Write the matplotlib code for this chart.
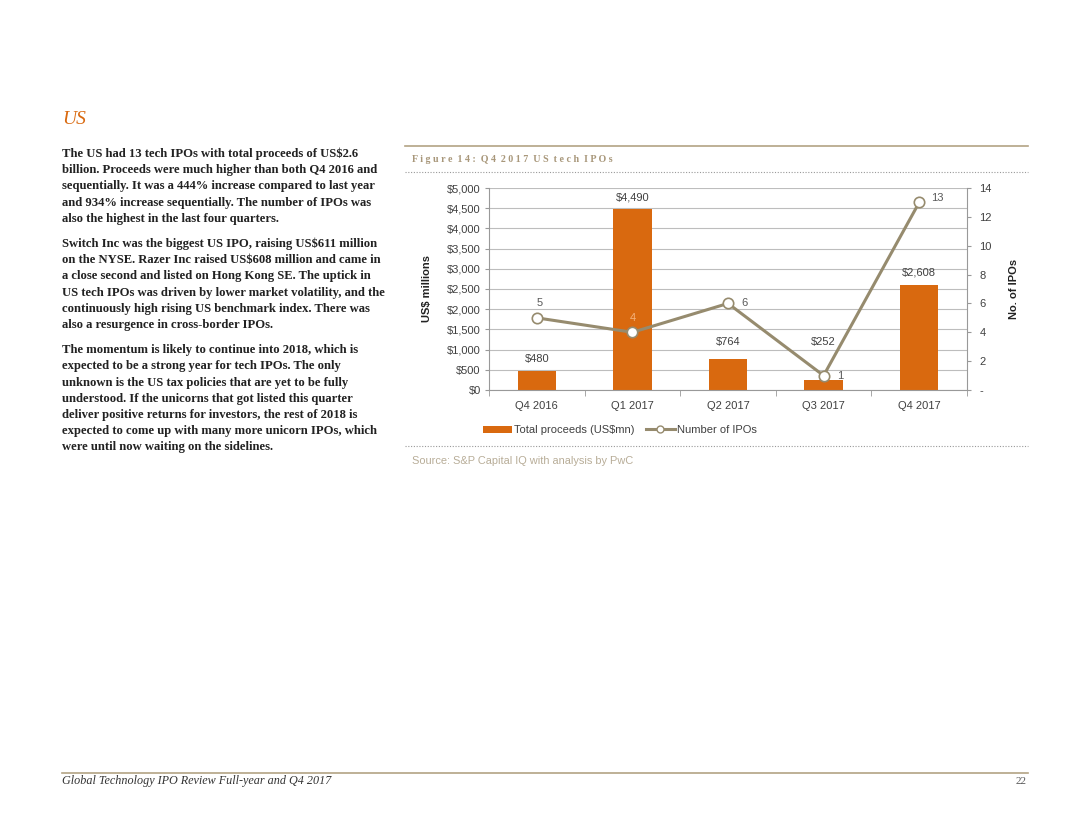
import numpy as np
import matplotlib.pyplot as plt
from matplotlib.patches import Patch
from matplotlib.lines import Line2D

W, H = 1080, 835

quarters = ["Q4 2016", "Q1 2017", "Q2 2017", "Q3 2017", "Q4 2017"]
proceeds = [480, 4490, 764, 252, 2608]
ipo_count = [5, 4, 6, 1, 13]

para1 = ["The US had 13 tech IPOs with total proceeds of US$2.6",
         "billion. Proceeds were much higher than both Q4 2016 and",
         "sequentially. It was a 444% increase compared to last year",
         "and 934% increase sequentially. The number of IPOs was",
         "also the highest in the last four quarters."]
para2 = ["Switch Inc was the biggest US IPO, raising US$611 million",
         "on the NYSE. Razer Inc raised US$608 million and came in",
         "a close second and listed on Hong Kong SE. The uptick in",
         "US tech IPOs was driven by lower market volatility, and the",
         "continuously high rising US benchmark index. There was",
         "also a resurgence in cross-border IPOs."]
para3 = ["The momentum is likely to continue into 2018, which is",
         "expected to be a strong year for tech IPOs. The only",
         "unknown is the US tax policies that are yet to be fully",
         "understood. If the unicorns that got listed this quarter",
         "deliver positive returns for investors, the rest of 2018 is",
         "expected to come up with many more unicorn IPOs, which",
         "were until now waiting on the sidelines."]

ORANGE = "#D9690F"
LINE = "#968B6E"
TAN = "#B3A384"
TXT = "#404040"
FS = 8


def fx(x):
    return x / W


def fy(y):
    return 1 - y / H


fig = plt.figure(figsize=(W / 100, H / 100), dpi=100)
fig.patch.set_facecolor("white")

# left column text
fig.text(fx(62), fy(119), "US", family="Liberation Serif", style="italic",
         size=14, color=ORANGE, va="center")
y = 154
for para in (para1, para2, para3):
    for line in para:
        fig.text(fx(62), fy(y), line, family="Liberation Serif", weight="bold",
                 size=9.1, color="#222222", va="center")
        y += 16.2
    y += 9

# figure frame lines
fig.add_artist(Line2D([fx(405), fx(1028)], [fy(146), fy(146)], color=TAN, lw=1.2))
fig.add_artist(Line2D([fx(405), fx(1028)], [fy(172), fy(172)], color="#999999",
                      lw=0.8, ls=(0, (1, 1.5))))
fig.add_artist(Line2D([fx(405), fx(1028)], [fy(446), fy(446)], color="#999999",
                      lw=0.8, ls=(0, (1, 1.5))))
fig.text(fx(412), fy(160), "F i g u r e  1 4 :  Q 4  2 0 1 7  U S  t e c h  I P O s",
         family="Liberation Serif", weight="bold", size=7.2, color="#A8977A", va="center")
fig.text(fx(412), fy(461), "Source: S&P Capital IQ with analysis by PwC",
         family="Liberation Sans", size=7.9, color="#B8AD98", va="center")

# footer
fig.add_artist(Line2D([fx(62), fx(1028)], [fy(773), fy(773)], color=TAN, lw=1.2))
fig.text(fx(62), fy(781), "Global Technology IPO Review Full-year and Q4 2017",
         family="Liberation Serif", style="italic", size=8.7, color="#333333", va="center")
fig.text(fx(1027), fy(781), "22", family="Liberation Serif", size=8,
         color="#555555", va="center", ha="right")

# chart
ax = fig.add_axes([fx(489), fy(390), (967 - 489) / W, (390 - 188) / H])
x = np.arange(len(quarters))
ax.bar(x, proceeds, width=0.4, color=ORANGE, zorder=2)
ax.set_xlim(-0.5, len(quarters) - 0.5)
ax.set_ylim(0, 5000)
ax.set_yticks(np.arange(0, 5001, 500))
ax.set_yticklabels(["${:,}".format(v) for v in range(0, 5001, 500)])
ax.yaxis.grid(True, color="#BDBDBD", lw=0.8, zorder=0)
ax.set_axisbelow(True)
ax.set_xticks(x)
ax.set_xticklabels(quarters)
ax.set_xticks(np.arange(-0.5, len(quarters)), minor=True)
ax.tick_params(axis="x", which="major", length=0, pad=8)
ax.tick_params(axis="x", which="minor", length=4, color="#999999")
ax.tick_params(axis="y", length=3, color="#999999", pad=3)
ax.tick_params(labelsize=FS, labelcolor=TXT)
for lab in ax.get_xticklabels() + ax.get_yticklabels():
    lab.set_family("Liberation Sans")
for s in ["top", "right"]:
    ax.spines[s].set_visible(False)
for s in ["left", "bottom"]:
    ax.spines[s].set_color("#999999")
    ax.spines[s].set_linewidth(0.8)
ax.set_ylabel("US$ millions", family="Liberation Sans", weight="bold", size=FS,
              color="#222222", labelpad=11)

bar_offsets = [8, 8, 12, 27, 9]
for xi, v, off in zip(x, proceeds, bar_offsets):
    ax.annotate("${:,}".format(v), (xi, v), xytext=(0, off), textcoords="offset points",
                ha="center", va="center", family="Liberation Sans", size=FS, color=TXT)

ax2 = ax.twinx()
ax2.plot(x, ipo_count, color=LINE, lw=2.2, marker="o", ms=7.5, mfc="white",
         mec=LINE, mew=1.2, zorder=3)
ax2.set_ylim(0, 14)
ax2.set_yticks(np.arange(0, 15, 2))
ax2.set_yticklabels(["-"] + [str(v) for v in range(2, 15, 2)])
ax2.tick_params(axis="y", length=3, color="#999999", labelsize=FS,
                labelcolor=TXT, pad=6)
for lab in ax2.get_yticklabels():
    lab.set_family("Liberation Sans")
for s in ["top", "left", "bottom"]:
    ax2.spines[s].set_visible(False)
ax2.spines["right"].set_color("#999999")
ax2.spines["right"].set_linewidth(0.8)
ax2.set_ylabel("No. of IPOs", family="Liberation Sans", weight="bold", size=FS,
               color="#222222", labelpad=12)

offsets = [(2, 11), (0, 10), (12, 0), (12, 0), (13, 3)]
for i, (xi, v) in enumerate(zip(x, ipo_count)):
    dx, dy = offsets[i]
    col = "#F4B27C" if i == 1 else "#595959"
    ax2.annotate(str(v), (xi, v), xytext=(dx, dy), textcoords="offset points",
                 ha="center", va="center", family="Liberation Sans", size=FS, color=col)

handles = [Patch(facecolor=ORANGE, edgecolor="none"),
           Line2D([0], [0], color=LINE, lw=2.2, marker="o", ms=5, mfc="white", mec=LINE)]
fig.legend(handles, ["Total proceeds (US$mn)", "Number of IPOs"],
           loc="center left", bbox_to_anchor=(fx(473), fy(430)), ncol=2, frameon=False,
           prop={"family": "Liberation Sans", "size": FS}, handlelength=2.6,
           handleheight=0.6, handletextpad=0.2, columnspacing=1.0, labelcolor=TXT)

fig.savefig("out.png", dpi=100, facecolor="white")
